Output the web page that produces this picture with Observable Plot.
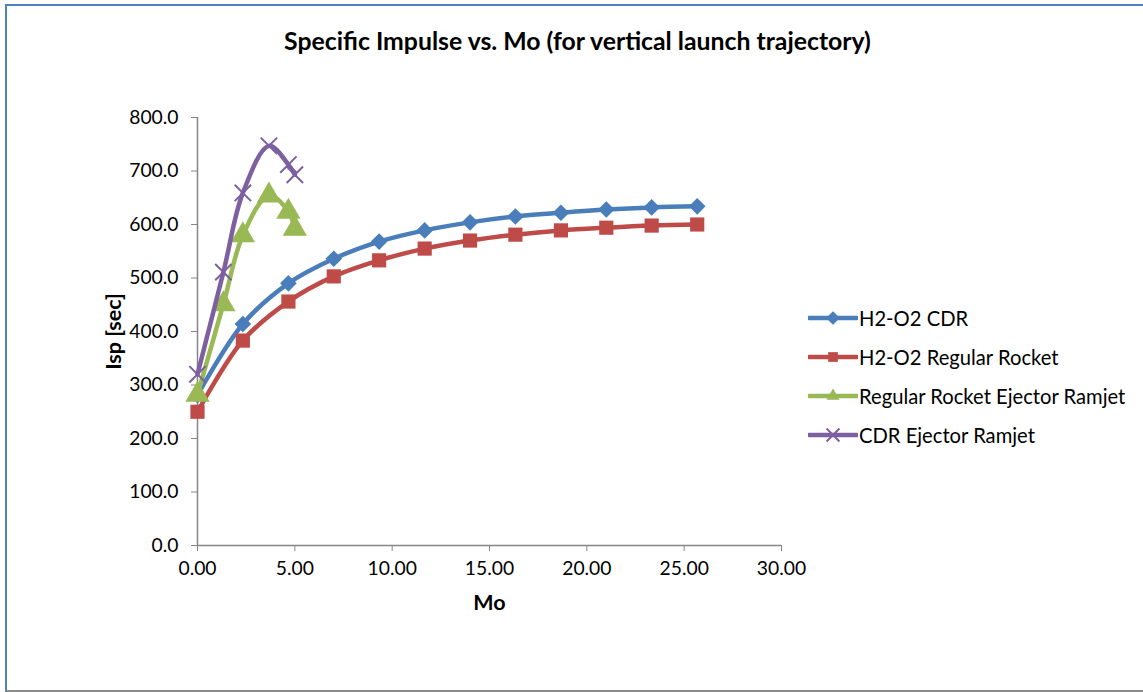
<!DOCTYPE html>
<html><head><meta charset="utf-8">
<script src="https://cdn.jsdelivr.net/npm/d3@7"></script>
<script src="https://cdn.jsdelivr.net/npm/@observablehq/plot@0.6"></script>
<style>
body{margin:0;background:#fff;font-family:Lato,"Open Sans",sans-serif;}
#wrap{position:relative;width:1143px;height:692px;overflow:hidden;background:#fff;}
#border{position:absolute;left:5px;top:4px;width:1160px;height:684px;border-left:2px solid #4F81BD;border-top:2px solid #4F81BD;border-bottom:2px solid #8c8c8c;}
#chart{position:absolute;left:0;top:0;}
#title{position:absolute;left:0;width:1155px;top:26px;text-align:center;font-weight:bold;font-size:24.8px;color:#000;}
#legend{position:absolute;left:808px;top:298px;}
.row{display:flex;align-items:center;height:39px;font-size:20.2px;color:#000;}
.row svg{display:block;margin-right:1px;}
g[aria-label="y-axis label"] text, g[aria-label="x-axis label"] text{font-weight:bold;font-size:21.5px;}
</style>
</head><body>
<div id="wrap">
  <div id="border"></div>
  <div id="chart"></div>
  <div id="title">Specific Impulse vs. Mo (for vertical launch trajectory)</div>
  <div id="legend"></div>
</div>
<script>
// Data
const machMain = [0, 2.33, 4.67, 7, 9.33, 11.67, 14, 16.33, 18.67, 21, 23.33, 25.67];
const h2o2CDR = [281, 414, 490, 536, 568, 589, 604, 615, 622, 628, 632, 634];
const h2o2Regular = [250, 383, 456, 503, 533, 555, 570, 581, 589, 594, 598, 600];
const machEjector = [0, 1.33, 2.33, 3.67, 4.67, 5.0];
const regularEjector = [282, 451, 580, 654, 624, 592];
const cdrEjector = [320, 511, 659, 747, 712, 693];
const seriesNames = ["H2-O2 CDR", "H2-O2 Regular Rocket", "Regular Rocket Ejector Ramjet", "CDR Ejector Ramjet"];
const xTicks = [0, 5, 10, 15, 20, 25, 30];
const yTicks = [0, 100, 200, 300, 400, 500, 600, 700, 800];

const colors = ["#4A7EBB", "#BE4B48", "#98B954", "#7D60A0"];
const symbols = ["diamond2", "square", "triangle", "times"];

const series = [
  {name: seriesNames[0], x: machMain, y: h2o2CDR},
  {name: seriesNames[1], x: machMain, y: h2o2Regular},
  {name: seriesNames[2], x: machEjector, y: regularEjector},
  {name: seriesNames[3], x: machEjector, y: cdrEjector}
].map((s, i) => ({...s, color: colors[i], symbol: symbols[i], data: s.x.map((x, j) => ({x, y: s.y[j]}))}));

const marks = [
  Plot.ruleY([0], {stroke: "#868686", strokeWidth: 1.5}),
  Plot.ruleX([0], {stroke: "#868686", strokeWidth: 1.5}),
  Plot.axisX({ticks: xTicks, tickFormat: d3.format(".2f"), tickSize: 6, tickPadding: 10, stroke: "#868686", fill: "#000", fontSize: 19.3,
    label: "Mo", labelAnchor: "center", labelOffset: 64, labelArrow: "none"}),
  Plot.axisY({ticks: yTicks, tickFormat: d3.format(".1f"), tickSize: 6, tickPadding: 13, stroke: "#868686", fill: "#000", fontSize: 19.3,
    label: "Isp [sec]", labelAnchor: "center", labelOffset: 92, labelArrow: "none"})
];
for (const s of series) {
  marks.push(Plot.line(s.data, {x: "x", y: "y", stroke: s.color, strokeWidth: 4.5, curve: "catmull-rom"}));
  if (s.symbol === "times") {
    marks.push(Plot.dot(s.data, {x: "x", y: "y", symbol: "times", stroke: s.color, strokeWidth: 2, r: 7.5}));
  } else {
    const r = s.symbol === "square" ? 8 : s.symbol === "triangle" ? 9 : 7.5;
    marks.push(Plot.dot(s.data, {x: "x", y: "y", symbol: s.symbol, fill: s.color, stroke: "none", r}));
  }
}

const chart = Plot.plot({
  width: 1143, height: 692,
  marginLeft: 197, marginRight: 362, marginTop: 117, marginBottom: 147,
  x: {domain: [0, 30]},
  y: {domain: [0, 800]},
  style: {fontFamily: "Lato, 'Open Sans', sans-serif", background: "transparent", overflow: "visible"},
  marks
});
document.getElementById("chart").appendChild(chart);

// Legend
const legend = d3.select("#legend");
for (const s of series) {
  const row = legend.append("div").attr("class", "row");
  const svg = row.append("svg").attr("width", 50).attr("height", 20);
  svg.append("line").attr("x1", 1).attr("x2", 49).attr("y1", 10).attr("y2", 10)
    .attr("stroke", s.color).attr("stroke-width", 4.5).attr("stroke-linecap", "round");
  const sym = d3.symbol().type(
    s.symbol === "diamond2" ? d3.symbolDiamond2 :
    s.symbol === "square" ? d3.symbolSquare2 :
    s.symbol === "triangle" ? d3.symbolTriangle2 : d3.symbolTimes
  ).size(s.symbol === "times" ? 110 : 120);
  svg.append("path").attr("d", sym()).attr("transform", "translate(25,10)")
    .attr("fill", s.symbol === "times" ? "none" : s.color)
    .attr("stroke", s.symbol === "times" ? s.color : "none").attr("stroke-width", 2);
  row.append("span").text(s.name);
}
</script>
</body></html>
